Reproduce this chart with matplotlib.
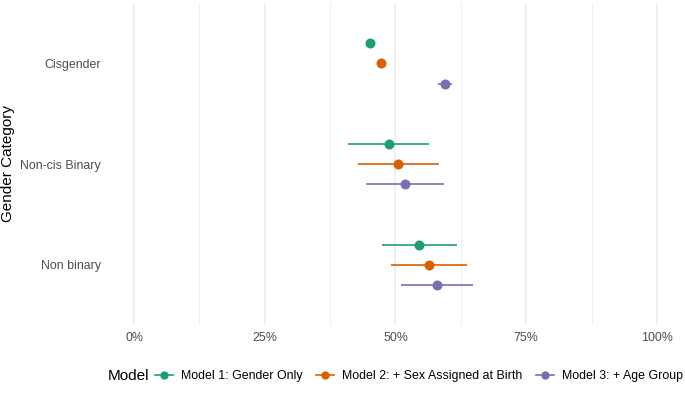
import numpy as np
import matplotlib.pyplot as plt
from matplotlib.lines import Line2D
from matplotlib.ticker import PercentFormatter, MultipleLocator

plt.rcParams['font.family'] = ['Liberation Sans', 'DejaVu Sans']

# data
categories = ['Cisgender', 'Non-cis Binary', 'Non binary']
models = ['Model 1: Gender Only', 'Model 2: + Sex Assigned at Birth', 'Model 3: + Age Group']
colors = ['#1B9E77', '#D95F02', '#7570B3']

est = [
    [0.451, 0.487, 0.545],   # model 1
    [0.472, 0.505, 0.564],   # model 2
    [0.595, 0.518, 0.579],   # model 3
]
low = [
    [0.446, 0.409, 0.474],
    [0.467, 0.428, 0.491],
    [0.581, 0.444, 0.511],
]
high = [
    [0.456, 0.564, 0.618],
    [0.477, 0.583, 0.637],
    [0.609, 0.593, 0.648],
]

ypos = np.array([3, 2, 1])
offsets = [0.2, 0.0, -0.2]

small = 8.9
big = 11.0

fig = plt.figure(figsize=(6.85, 4.05), dpi=100)
ax = fig.add_axes([108 / 685, 1 - 325 / 405, 575 / 685, 322 / 405])

for m in range(3):
    y = ypos + offsets[m]
    e = np.array(est[m])
    ax.hlines(y, low[m], high[m], color=colors[m], lw=1.2, zorder=3)
    ax.plot(e, y, 'o', color=colors[m], ms=7.2, mec='none', zorder=4)

ax.set_xlim(-0.05, 1.05)
ax.set_ylim(0.4, 3.6)
ax.xaxis.set_major_locator(MultipleLocator(0.25))
ax.xaxis.set_minor_locator(MultipleLocator(0.125))
ax.xaxis.set_major_formatter(PercentFormatter(1.0, decimals=0))
ax.set_yticks(ypos)
ax.set_yticklabels(categories)

ax.grid(axis='x', which='major', color='#EBEBEB', lw=1.1, zorder=0)
ax.grid(axis='x', which='minor', color='#EBEBEB', lw=0.6, zorder=0)
ax.set_axisbelow(True)
for s in ax.spines.values():
    s.set_visible(False)
ax.tick_params(which='both', length=0)
ax.tick_params(axis='x', labelsize=small, labelcolor='#4D4D4D', pad=5)
ax.tick_params(axis='y', labelsize=small, labelcolor='#4D4D4D', pad=5)
ax.set_ylabel('Gender Category', fontsize=big, color='black', va='center')
ax.yaxis.set_label_coords((8 - 108) / 575, 0.5)

# legend at the bottom, title on the left
ly = 1 - 376 / 405
handles = [Line2D([0], [0], color=c, lw=1.2, marker='o', ms=6, mec='none') for c in colors]
title = fig.text(0, ly, 'Model', fontsize=big, va='center', ha='left')
leg = fig.legend(handles, models, loc='center left', bbox_to_anchor=(0, ly),
                 ncol=3, frameon=False, fontsize=small, handlelength=1.5, handletextpad=0.6,
                 columnspacing=1.1, borderpad=0, borderaxespad=0)
fig.canvas.draw()
r = fig.canvas.get_renderer()
tw = title.get_window_extent(r).width
lw_ = leg.get_window_extent(r).width
gap = 6
total = tw + gap + lw_
x0 = 395 - total / 2
title.set_x(x0 / 685)
leg.set_bbox_to_anchor(((x0 + tw + gap) / 685, ly), transform=fig.transFigure)

fig.savefig('out.png', dpi=100)
